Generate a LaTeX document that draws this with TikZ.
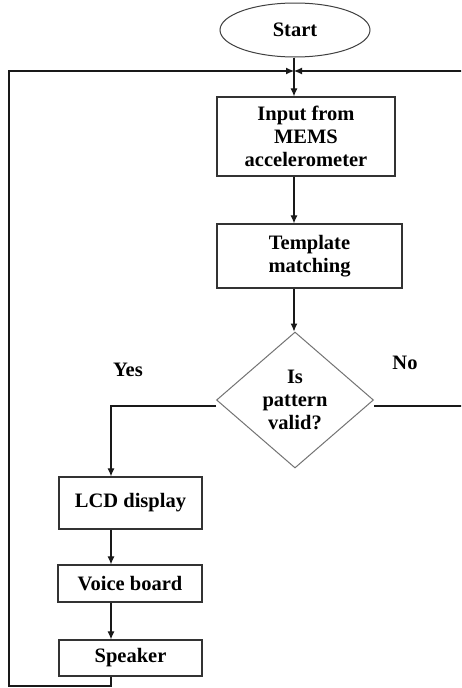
\documentclass[tikz,border=0pt]{standalone}
\usepackage{fontspec}
\setmainfont{Liberation Serif}
\usetikzlibrary{shapes.geometric,arrows.meta}
\begin{document}
\begin{tikzpicture}[x=1pt,y=-1pt,
  txt/.style={font=\fontsize{20.5}{23}\selectfont\bfseries, align=center, text=black},
  box/.style={txt, draw=black!80, line width=1.3pt, rectangle, inner sep=0pt},
  conn/.style={draw=black!90, line width=1.1pt},
  arr/.style={conn, -{Latex[length=8pt,width=7pt]}},
  lbl/.style={font=\fontsize{20.5}{23}\selectfont\bfseries, text=black}]
\useasboundingbox (0,0) rectangle (461,688);
\clip (0,0) rectangle (461,688);
\fill[white] (0,0) rectangle (461,688);

\node[txt, draw=black!75, line width=1pt, ellipse, minimum width=150pt, minimum height=54pt, inner sep=0pt] (start) at (295,30) {Start};
\node[box, minimum width=178pt, minimum height=79pt] (input) at (306,136.5) {Input from\\MEMS\\accelerometer};
\node[box, minimum width=185pt, minimum height=64pt] (template) at (309.5,256) {Template\\matching};
\node[txt, draw=black!55, line width=1pt, diamond, minimum width=157pt, minimum height=136pt, inner sep=0pt] (dia) at (295,400) {Is\\pattern\\valid?};
\node[box, minimum width=143pt, minimum height=52pt] (lcd) at (130.5,503) {LCD display};
\node[box, minimum width=144pt, minimum height=37pt] (voice) at (130,583.5) {Voice board};
\node[box, minimum width=143pt, minimum height=36pt] (speaker) at (130.5,658) {Speaker};

\node[lbl] (yes) at (128,370) {Yes};
\node[lbl] (no) at (405,363) {No};

\coordinate (j) at (294,71);
\coordinate (col) at (111,406);
\coordinate (loopL) at (9,686);
\coordinate (loopR) at (475,71);

\draw[arr] (start.south -| j) -- (input.north -| j);
\draw[arr] (input.south -| j) -- (template.north -| j);
\draw[arr] (template.south -| j) -- (dia.north -| j);
\draw[arr] (dia.west |- col) -| (lcd.north -| col);
\draw[arr] (lcd.south -| col) -- (voice.north -| col);
\draw[arr] (voice.south -| col) -- (speaker.north -| col);
\draw[arr] (speaker.south -| col) |- (loopL) |- (j);
\draw[arr] (dia.east |- col) -| (loopR) -- (j);
\end{tikzpicture}
\end{document}
